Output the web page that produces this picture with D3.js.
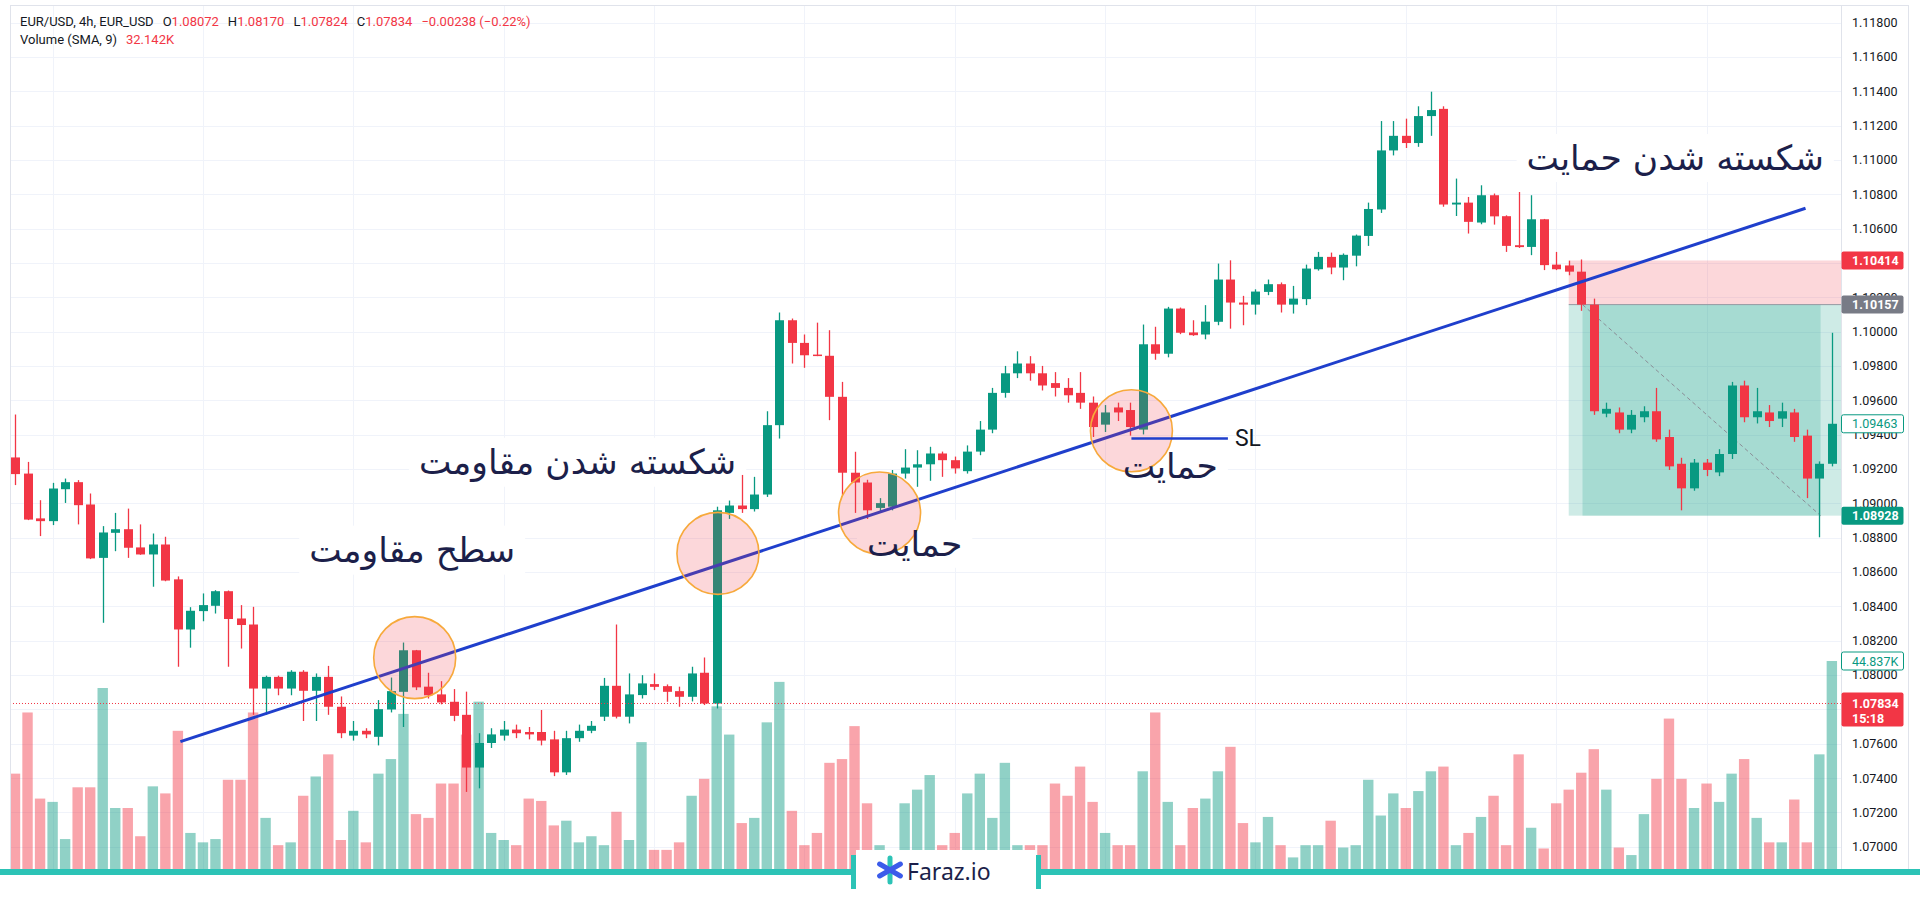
<!DOCTYPE html>
<html>
<head>
<meta charset="utf-8">
<script src="https://cdn.jsdelivr.net/npm/d3@7"></script>
<style>
  body { margin: 0; background: #fff; }
  svg { display: block; }
</style>
</head>
<body>
<svg id="chart" width="1920" height="900"></svg>
<script>
// ===================== DATA =====================
const open = [
  1.09267, 1.09173, 1.08912, 1.08896, 1.09082, 1.09123, 1.08993, 1.08682, 1.08828, 1.08849,
  1.08743, 1.08702, 1.08760, 1.08557, 1.08265, 1.08372, 1.08403, 1.08488, 1.08329, 1.08294,
  1.07921, 1.07989, 1.07921, 1.08019, 1.07908, 1.07989, 1.07815, 1.07647, 1.07675, 1.07640,
  1.07799, 1.07902, 1.08144, 1.07932, 1.07887, 1.07844, 1.07768, 1.07461, 1.07604, 1.07647,
  1.07682, 1.07668, 1.07668, 1.07625, 1.07433, 1.07632, 1.07675, 1.07757, 1.07937, 1.07757,
  1.07883, 1.07947, 1.07935, 1.07906, 1.07873, 1.08013, 1.07834, 1.08944, 1.08987, 1.08966,
  1.09051, 1.09455, 1.10066, 1.09934, 1.09866, 1.09859, 1.09620, 1.09178, 1.09121, 1.08973,
  1.08980, 1.09173, 1.09208, 1.09227, 1.09290, 1.09251, 1.09187, 1.09301, 1.09429, 1.09643,
  1.09757, 1.09814, 1.09757, 1.09700, 1.09672, 1.09643, 1.09586, 1.09458, 1.09558, 1.09543,
  1.09429, 1.09926, 1.09871, 1.10134, 1.09995, 1.09983, 1.10057, 1.10303, 1.10169, 1.10157,
  1.10231, 1.10276, 1.10157, 1.10189, 1.10363, 1.10435, 1.10373, 1.10442, 1.10557, 1.10711,
  1.11055, 1.11140, 1.11098, 1.11255, 1.11297, 1.10740, 1.10751, 1.10635, 1.10794, 1.10672,
  1.10503, 1.10493, 1.10654, 1.10390, 1.10385, 1.10349, 1.10157, 1.09522, 1.09529, 1.09429,
  1.09501, 1.09536, 1.09386, 1.09230, 1.09087, 1.09237, 1.09180, 1.09287, 1.09686, 1.09501,
  1.09529, 1.09493, 1.09529, 1.09394, 1.09144, 1.09230];

const high = [
  1.09517, 1.09241, 1.09018, 1.09119, 1.09144, 1.09135, 1.09057, 1.08867, 1.08944, 1.08969,
  1.08877, 1.08824, 1.08805, 1.08574, 1.08395, 1.08475, 1.08494, 1.08492, 1.08407, 1.08397,
  1.07996, 1.07996, 1.08028, 1.08028, 1.08009, 1.08053, 1.07875, 1.07732, 1.07690, 1.07854,
  1.07985, 1.08189, 1.08146, 1.08013, 1.07964, 1.07918, 1.07903, 1.07661, 1.07690, 1.07732,
  1.07711, 1.07697, 1.07796, 1.07675, 1.07675, 1.07711, 1.07732, 1.07983, 1.08294, 1.08009,
  1.07999, 1.08009, 1.07945, 1.07932, 1.08048, 1.08102, 1.08980, 1.09016, 1.09165, 1.09154,
  1.09536, 1.10111, 1.10076, 1.09983, 1.10052, 1.10008, 1.09707, 1.09300, 1.09137, 1.09030,
  1.09194, 1.09315, 1.09309, 1.09329, 1.09301, 1.09272, 1.09337, 1.09479, 1.09672, 1.09800,
  1.09885, 1.09857, 1.09800, 1.09764, 1.09729, 1.09764, 1.09622, 1.09572, 1.09586, 1.09586,
  1.10041, 1.10028, 1.10144, 1.10140, 1.10066, 1.10154, 1.10396, 1.10415, 1.10208, 1.10246,
  1.10303, 1.10286, 1.10266, 1.10390, 1.10464, 1.10460, 1.10455, 1.10565, 1.10751, 1.11226,
  1.11226, 1.11240, 1.11312, 1.11397, 1.11312, 1.10891, 1.10784, 1.10852, 1.10804, 1.10677,
  1.10813, 1.10794, 1.10656, 1.10464, 1.10413, 1.10420, 1.10192, 1.09586, 1.09558, 1.09543,
  1.09565, 1.09672, 1.09429, 1.09265, 1.09258, 1.09258, 1.09315, 1.09707, 1.09714, 1.09672,
  1.09572, 1.09586, 1.09550, 1.09429, 1.09244, 1.09993];

const low = [
  1.09106, 1.08902, 1.08809, 1.08873, 1.09002, 1.08877, 1.08675, 1.08304, 1.08721, 1.08682,
  1.08700, 1.08514, 1.08546, 1.08048, 1.08159, 1.08313, 1.08358, 1.08048, 1.08154, 1.07768,
  1.07768, 1.07882, 1.07882, 1.07732, 1.07732, 1.07768, 1.07632, 1.07618, 1.07632, 1.07590,
  1.07782, 1.07697, 1.07912, 1.07863, 1.07829, 1.07731, 1.07319, 1.07340, 1.07575, 1.07618,
  1.07632, 1.07625, 1.07590, 1.07411, 1.07418, 1.07611, 1.07661, 1.07732, 1.07747, 1.07718,
  1.07863, 1.07912, 1.07844, 1.07815, 1.07846, 1.07825, 1.07805, 1.08909, 1.08944, 1.08952,
  1.09037, 1.09377, 1.09814, 1.09789, 1.09857, 1.09484, 1.09047, 1.08944, 1.08909, 1.08944,
  1.08959, 1.09144, 1.09096, 1.09131, 1.09154, 1.09173, 1.09173, 1.09280, 1.09408, 1.09615,
  1.09729, 1.09714, 1.09657, 1.09622, 1.09586, 1.09550, 1.09386, 1.09415, 1.09479, 1.09394,
  1.09401, 1.09836, 1.09850, 1.09985, 1.09975, 1.09955, 1.10037, 1.10017, 1.10037, 1.10099,
  1.10212, 1.10111, 1.10105, 1.10154, 1.10355, 1.10334, 1.10299, 1.10380, 1.10499, 1.10691,
  1.11026, 1.11069, 1.11076, 1.11140, 1.10727, 1.10673, 1.10571, 1.10625, 1.10623, 1.10464,
  1.10487, 1.10445, 1.10358, 1.10358, 1.10328, 1.10121, 1.09515, 1.09501, 1.09408, 1.09408,
  1.09472, 1.09358, 1.09194, 1.08959, 1.09073, 1.09158, 1.09158, 1.09258, 1.09472, 1.09465,
  1.09444, 1.09444, 1.09358, 1.09030, 1.08802, 1.09215];

const close = [
  1.09170, 1.08905, 1.08896, 1.09086, 1.09123, 1.08989, 1.08679, 1.08830, 1.08849, 1.08741,
  1.08702, 1.08760, 1.08550, 1.08265, 1.08374, 1.08407, 1.08488, 1.08326, 1.08291, 1.07921,
  1.07989, 1.07921, 1.08019, 1.07908, 1.07989, 1.07815, 1.07661, 1.07675, 1.07654, 1.07801,
  1.07906, 1.08144, 1.07928, 1.07882, 1.07840, 1.07762, 1.07461, 1.07604, 1.07654, 1.07682,
  1.07661, 1.07654, 1.07618, 1.07433, 1.07632, 1.07675, 1.07704, 1.07937, 1.07757, 1.07887,
  1.07951, 1.07931, 1.07902, 1.07873, 1.08009, 1.07834, 1.08959, 1.08987, 1.08966, 1.09051,
  1.09455, 1.10066, 1.09934, 1.09862, 1.09859, 1.09620, 1.09178, 1.09121, 1.08959, 1.09001,
  1.09173, 1.09208, 1.09227, 1.09290, 1.09251, 1.09203, 1.09301, 1.09429, 1.09643, 1.09757,
  1.09814, 1.09757, 1.09686, 1.09672, 1.09629, 1.09586, 1.09444, 1.09529, 1.09529, 1.09444,
  1.09926, 1.09871, 1.10134, 1.09993, 1.09979, 1.10058, 1.10303, 1.10169, 1.10157, 1.10233,
  1.10276, 1.10157, 1.10192, 1.10367, 1.10435, 1.10373, 1.10447, 1.10559, 1.10714, 1.11055,
  1.11140, 1.11098, 1.11255, 1.11290, 1.10740, 1.10751, 1.10639, 1.10794, 1.10671, 1.10499,
  1.10492, 1.10654, 1.10387, 1.10363, 1.10349, 1.10157, 1.09536, 1.09550, 1.09429, 1.09515,
  1.09536, 1.09372, 1.09215, 1.09087, 1.09237, 1.09194, 1.09287, 1.09686, 1.09501, 1.09536,
  1.09479, 1.09536, 1.09386, 1.09144, 1.09230, 1.09463];

// volume in thousands
const volume = [
  20.9, 33.9, 15.6, 14.9, 7.0, 18.0, 18.0, 39.1, 13.6, 13.6,
  7.6, 18.2, 16.7, 30.0, 8.3, 6.3, 7.0, 19.6, 19.6, 33.9,
  11.5, 5.7, 6.3, 16.2, 20.3, 25.0, 6.8, 13.0, 6.3, 20.9,
  24.0, 33.6, 12.3, 11.5, 18.8, 18.8, 29.2, 36.2, 8.3, 6.8,
  5.7, 15.6, 15.1, 9.9, 10.9, 6.3, 7.6, 5.7, 12.8, 6.8,
  27.6, 4.7, 4.7, 6.3, 16.2, 19.8, 35.2, 29.2, 10.4, 11.5,
  31.8, 40.4, 13.0, 5.7, 8.3, 23.2, 24.0, 31.0, 14.6, 5.7,
  3.6, 14.6, 17.5, 20.6, 5.7, 8.3, 16.7, 20.9, 11.5, 23.2,
  5.7, 5.7, 5.7, 18.8, 16.2, 22.4, 14.9, 8.3, 5.7, 5.7,
  21.4, 33.9, 14.9, 5.7, 13.6, 15.6, 21.4, 26.6, 10.4, 6.3,
  11.7, 5.7, 3.1, 5.7, 5.7, 10.9, 5.2, 5.7, 19.6, 12.0,
  16.7, 13.6, 17.2, 21.4, 22.4, 5.7, 8.3, 11.7, 16.2, 5.7,
  25.0, 9.4, 5.0, 14.6, 17.5, 21.1, 26.1, 17.5, 5.2, 3.6,
  12.3, 19.8, 32.6, 19.8, 13.6, 18.8, 14.9, 20.9, 24.0, 11.5,
  6.3, 6.3, 15.4, 6.3, 25.0, 44.837];

const priceTicks = [1.070, 1.072, 1.074, 1.076, 1.078, 1.080, 1.082, 1.084, 1.086, 1.088,
  1.090, 1.092, 1.094, 1.096, 1.098, 1.100, 1.102, 1.104, 1.106, 1.108, 1.110, 1.112,
  1.114, 1.116, 1.118];

const lastPrice = 1.07834;
const volumeLast = 44.837;

// price tags on the axis
const priceTags = [
  { text: "1.10414", price: 1.10414, bg: "#f23645", fg: "#ffffff" },
  { text: "1.10157", price: 1.10157, bg: "#787b86", fg: "#ffffff" },
  { text: "1.09463", price: 1.09463, bg: "#ffffff", fg: "#089981", border: "#089981" },
  { text: "1.08928", price: 1.08928, bg: "#089981", fg: "#ffffff" }
];

// drawings (bar index, price)
const trendLine = [{ i: 13.2, p: 1.07612 }, { i: 142.9, p: 1.10718 }];
const circles = [
  { i: 31.9, p: 1.08101 }, { i: 56.1, p: 1.08708 },
  { i: 69.0, p: 1.08943 }, { i: 89.1, p: 1.09422 }
];
const slLine = { i0: 89.1, i1: 96.8, p: 1.09378 };
const shortPos = { start: 124, fillFrom: 125.1, fillTo: 144.1, stop: 1.10414, entry: 1.10157, target: 1.08928 };

const labels = [
  { text: "شکسته شدن حمایت", i: 132.5, p: 1.11011 },
  { text: "شکسته شدن مقاومت", i: 44.9, p: 1.09242 },
  { text: "سطح مقاومت", i: 31.7, p: 1.08730 },
  { text: "حمایت", i: 71.8, p: 1.08764 },
  { text: "حمایت", i: 92.2, p: 1.09219 }
];

// ======================= SETUP =======================
const svg = d3.select("#chart");
const W = 1920, H = 900;
const pane = { left: 10, top: 5, right: 1841, bottom: 872 };
const up = "#089981", down = "#f23645";

const x = d3.scaleLinear().domain([0, 145]).range([15, 15 + 12.53 * 145]);
const y = d3.scaleLinear().domain([1.070, 1.118]).range([846.7, 22.5]);
const yv = d3.scaleLinear().domain([0, volumeLast]).range([872, 661]);

const candles = open.map(function(o, i) {
  return { i: i, o: o, h: high[i], l: low[i], c: close[i], v: volume[i] };
});

svg.append("rect").attr("width", W).attr("height", H).attr("fill", "#fff");

svg.append("defs").append("clipPath").attr("id", "paneClip")
  .append("rect")
  .attr("x", pane.left).attr("y", pane.top)
  .attr("width", pane.right - pane.left).attr("height", pane.bottom - pane.top);

const g = svg.append("g").attr("clip-path", "url(#paneClip)");

//======================= GRID =======================
g.append("g").selectAll("line")
  .data(priceTicks)
  .enter().append("line")
  .attr("x1", pane.left).attr("x2", pane.right)
  .attr("y1", function(d) { return Math.round(y(d)) + 0.5; })
  .attr("y2", function(d) { return Math.round(y(d)) + 0.5; })
  .attr("stroke", "#f0f3fa");

g.append("g").selectAll("line")
  .data(d3.range(3, 150, 12))
  .enter().append("line")
  .attr("y1", pane.top).attr("y2", pane.bottom)
  .attr("x1", function(d) { return Math.round(x(d)) + 0.5; })
  .attr("x2", function(d) { return Math.round(x(d)) + 0.5; })
  .attr("stroke", "#f0f3fa");

// white boxes behind the labels sit right above the grid
const boxLayer = g.append("g");

//======================= VOLUME =======================
g.append("g").selectAll("rect")
  .data(candles)
  .enter().append("rect")
  .attr("x", function(d) { return x(d.i) - 5.2; })
  .attr("width", 10.4)
  .attr("y", function(d) { return yv(d.v); })
  .attr("height", function(d) { return yv(0) - yv(d.v); })
  .attr("fill", function(d) { return d.c >= d.o ? "rgba(8,153,129,0.45)" : "rgba(242,54,69,0.45)"; });

//======================= SHORT POSITION BOX =======================
const pos = g.append("g");
pos.append("rect")
  .attr("x", x(shortPos.start)).attr("width", pane.right - x(shortPos.start))
  .attr("y", y(shortPos.stop)).attr("height", y(shortPos.entry) - y(shortPos.stop))
  .attr("fill", "rgba(242,54,69,0.2)");
pos.append("rect")
  .attr("x", x(shortPos.start)).attr("width", pane.right - x(shortPos.start))
  .attr("y", y(shortPos.entry)).attr("height", y(shortPos.target) - y(shortPos.entry))
  .attr("fill", "rgba(8,153,129,0.2)");
pos.append("rect")
  .attr("x", x(shortPos.fillFrom)).attr("width", x(shortPos.fillTo) - x(shortPos.fillFrom))
  .attr("y", y(shortPos.entry)).attr("height", y(shortPos.target) - y(shortPos.entry))
  .attr("fill", "rgba(8,153,129,0.2)");
pos.append("line")
  .attr("x1", x(shortPos.start)).attr("x2", pane.right)
  .attr("y1", y(shortPos.entry)).attr("y2", y(shortPos.entry))
  .attr("stroke", "#9598a1").attr("stroke-width", 1);
pos.append("line")
  .attr("x1", x(shortPos.fillFrom)).attr("y1", y(shortPos.entry))
  .attr("x2", x(shortPos.fillTo)).attr("y2", y(shortPos.target))
  .attr("stroke", "#8a8d96").attr("stroke-width", 1).attr("stroke-dasharray", "4,3");

//======================= CANDLES =======================
const cg = g.append("g");
cg.selectAll(".wick")
  .data(candles)
  .enter().append("line")
  .attr("class", "wick")
  .attr("x1", function(d) { return Math.round(x(d.i)) + 0.5; })
  .attr("x2", function(d) { return Math.round(x(d.i)) + 0.5; })
  .attr("y1", function(d) { return y(Math.max(d.h, d.o, d.c)); })
  .attr("y2", function(d) { return y(Math.min(d.l, d.o, d.c)); })
  .attr("stroke", function(d) { return d.c >= d.o ? up : down; })
  .attr("stroke-width", 1.3);

cg.selectAll(".body")
  .data(candles)
  .enter().append("rect")
  .attr("class", "body")
  .attr("x", function(d) { return Math.round(x(d.i)) + 0.5 - 4.5; })
  .attr("width", 9)
  .attr("y", function(d) { return y(Math.max(d.o, d.c)); })
  .attr("height", function(d) { return Math.max(1.5, Math.abs(y(d.o) - y(d.c))); })
  .attr("fill", function(d) { return d.c >= d.o ? up : down; });

// last price dotted line
g.append("line")
  .attr("x1", pane.left).attr("x2", pane.right)
  .attr("y1", y(lastPrice)).attr("y2", y(lastPrice))
  .attr("stroke", down).attr("stroke-width", 1).attr("stroke-dasharray", "1,2");

//======================= DRAWINGS =======================
g.append("line")
  .attr("x1", x(trendLine[0].i)).attr("y1", y(trendLine[0].p))
  .attr("x2", x(trendLine[1].i)).attr("y2", y(trendLine[1].p))
  .attr("stroke", "#1f3fcc").attr("stroke-width", 3);

g.append("g").selectAll("circle")
  .data(circles)
  .enter().append("circle")
  .attr("cx", function(d) { return x(d.i); })
  .attr("cy", function(d) { return y(d.p); })
  .attr("r", 41)
  .attr("fill", "rgba(242,54,69,0.2)")
  .attr("stroke", "#f7a93b").attr("stroke-width", 1.6);

// text labels, their white boxes go to the layer under the marks
const lg = g.append("g");
labels.forEach(function(d) {
  const t = lg.append("text")
    .attr("x", x(d.i)).attr("y", y(d.p))
    .attr("text-anchor", "middle")
    .attr("dominant-baseline", "central")
    .attr("font-family", "DejaVu Sans, sans-serif")
    .attr("font-size", 34.5)
    .attr("fill", "#1c1f4a")
    .text(d.text);
  const b = t.node().getBBox();
  boxLayer.append("rect")
    .attr("x", b.x - 10).attr("y", b.y - 4)
    .attr("width", b.width + 20).attr("height", b.height + 8)
    .attr("fill", "#fff");
});

g.append("line")
  .attr("x1", x(slLine.i0)).attr("x2", x(slLine.i1))
  .attr("y1", y(slLine.p)).attr("y2", y(slLine.p))
  .attr("stroke", "#1f3fcc").attr("stroke-width", 2.5);
g.append("text")
  .attr("x", x(slLine.i1) + 7).attr("y", y(slLine.p))
  .attr("dominant-baseline", "central")
  .attr("font-family", "Roboto, sans-serif")
  .attr("font-size", 23)
  .attr("fill", "#131722")
  .text("SL");

//======================= BORDERS =======================
svg.append("line").attr("x1", pane.left + 0.5).attr("x2", pane.left + 0.5)
  .attr("y1", pane.top).attr("y2", pane.bottom).attr("stroke", "#e0e3eb");
svg.append("line").attr("x1", pane.left).attr("x2", 1908)
  .attr("y1", pane.top + 0.5).attr("y2", pane.top + 0.5).attr("stroke", "#e0e3eb");
svg.append("line").attr("x1", pane.right + 0.5).attr("x2", pane.right + 0.5)
  .attr("y1", pane.top).attr("y2", pane.bottom).attr("stroke", "#e0e3eb");
svg.append("line").attr("x1", 1908.5).attr("x2", 1908.5)
  .attr("y1", pane.top).attr("y2", pane.bottom).attr("stroke", "#e0e3eb");

//======================= PRICE AXIS =======================
// tick labels that a tag covers completely are not shown (as in the terminal)
const tagPos = priceTags.map(function(d) { return y(d.price); }).concat([y(lastPrice) + 4]);
const shownTicks = priceTicks.filter(function(t) {
  return tagPos.every(function(p) { return Math.abs(y(t) - p) > 5; });
});
const axis = svg.append("g")
  .attr("transform", "translate(" + pane.right + ",0)")
  .call(d3.axisRight(y).tickValues(shownTicks).tickFormat(d3.format(".5f")).tickSize(0).tickPadding(11));
axis.select(".domain").remove();
axis.selectAll("text")
  .attr("font-family", "Roboto, sans-serif")
  .attr("font-size", 12.5)
  .attr("fill", "#131722");

const tagG = svg.append("g");
function tag(text, yy, bg, fg, border, sub) {
  const h = sub ? 34 : 18;
  const top = sub ? yy - 11 : yy - 9;
  tagG.append("rect")
    .attr("x", pane.right + 0.5).attr("y", top)
    .attr("width", 62).attr("height", h)
    .attr("rx", 2)
    .attr("fill", bg)
    .attr("stroke", border || "none").attr("stroke-width", 1);
  tagG.append("text")
    .attr("x", pane.right + 11).attr("y", yy)
    .attr("dominant-baseline", "central")
    .attr("font-family", "Roboto, sans-serif")
    .attr("font-size", 12.5)
    .attr("font-weight", border ? "normal" : "bold")
    .attr("fill", fg)
    .text(text);
  if (sub) {
    tagG.append("text")
      .attr("x", pane.right + 11).attr("y", yy + 15)
      .attr("dominant-baseline", "central")
      .attr("font-family", "Roboto, sans-serif")
      .attr("font-size", 12.5)
      .attr("font-weight", "bold")
      .attr("fill", fg)
      .text(sub);
  }
}
priceTags.forEach(function(d) { tag(d.text, y(d.price), d.bg, d.fg, d.border); });
tag(d3.format(".3f")(volumeLast) + "K", yv(volumeLast), "#ffffff", up, up);
tag(d3.format(".5f")(lastPrice), y(lastPrice), down, "#ffffff", null, "15:18");

//======================= HEADER =======================
const hdr = svg.append("g")
  .attr("font-family", "Roboto, sans-serif")
  .attr("font-size", 13)
  .attr("fill", "#131722");
const l1 = hdr.append("text").attr("x", 20).attr("y", 26);
l1.append("tspan").text("EUR/USD, 4h, EUR_USD");
[["O", "1.08072"], ["H", "1.08170"], ["L", "1.07824"], ["C", "1.07834"]].forEach(function(p) {
  l1.append("tspan").attr("dx", 9).text(p[0]);
  l1.append("tspan").attr("fill", down).text(p[1]);
});
l1.append("tspan").attr("dx", 9).attr("fill", down).text("\u22120.00238 (\u22120.22%)");
const l2 = hdr.append("text").attr("x", 20).attr("y", 44);
l2.append("tspan").text("Volume (SMA, 9)");
l2.append("tspan").attr("dx", 9).attr("fill", down).text("32.142K");

//======================= WATERMARK =======================
const wm = svg.append("g");
wm.append("rect").attr("x", 0).attr("y", 869).attr("width", W).attr("height", 6).attr("fill", "#2cc3b6");
wm.append("rect").attr("x", 856).attr("y", 850).attr("width", 180).attr("height", 50).attr("fill", "#fff");
wm.append("rect").attr("x", 851).attr("y", 855).attr("width", 5).attr("height", 34).attr("fill", "#2cc3b6");
wm.append("rect").attr("x", 1036).attr("y", 855).attr("width", 5).attr("height", 34).attr("fill", "#2cc3b6");
const ic = wm.append("g").attr("transform", "translate(890,870)");
[[90, "#2cc3b6"], [30, "#3b5bea"], [150, "#3b5bea"]].forEach(function(a) {
  ic.append("line")
    .attr("x1", -12).attr("x2", 12).attr("y1", 0).attr("y2", 0)
    .attr("transform", "rotate(" + a[0] + ")")
    .attr("stroke", a[1]).attr("stroke-width", 5).attr("stroke-linecap", "round");
});
wm.append("text")
  .attr("x", 907).attr("y", 871)
  .attr("dominant-baseline", "central")
  .attr("font-family", "Noto Sans, sans-serif")
  .attr("font-size", 23)
  .attr("fill", "#1c1f4a")
  .text("Faraz.io");
</script>
</body>
</html>
